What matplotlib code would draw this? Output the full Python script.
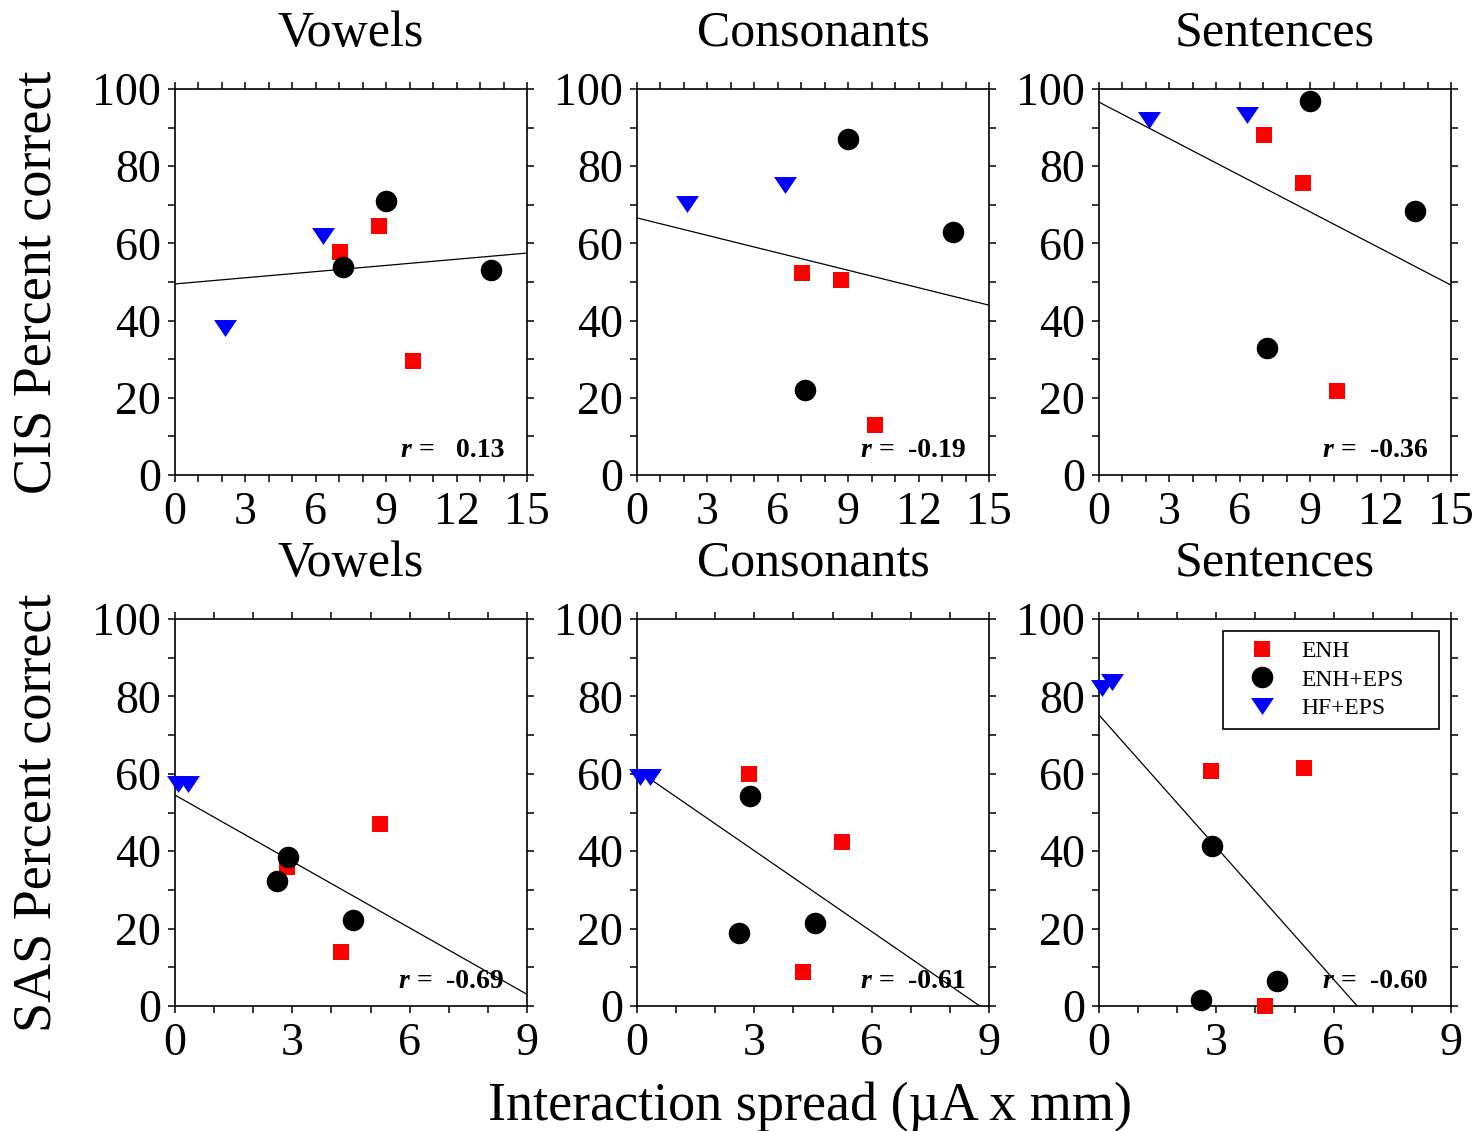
import matplotlib
matplotlib.use("Agg")
import matplotlib.pyplot as plt
from matplotlib.ticker import MultipleLocator
import numpy as np

plt.rcParams['font.family'] = ['Liberation Serif', 'DejaVu Serif']

# ---------------- data ----------------
titles = ["Vowels", "Consonants", "Sentences"]
row_labels = ["CIS Percent correct", "SAS Percent correct"]
groups = ["ENH", "ENH+EPS", "HF+EPS"]

# CIS (top row) interaction spread per subject
cis_x_enh = [7.05, 8.7, 10.15]
cis_x_eps = [7.15, 9.0, 13.45]
cis_x_hf = [2.15, 6.3]
# percent correct per test
cis_vow_enh = [57.8, 64.5, 29.5]
cis_vow_eps = [53.9, 71.0, 53.1]
cis_vow_hf = [38.0, 62.0]
cis_con_enh = [52.3, 50.5, 13.0]
cis_con_eps = [22.0, 87.0, 63.0]
cis_con_hf = [70.2, 75.1]
cis_sen_enh = [88.0, 75.6, 21.8]
cis_sen_eps = [32.9, 96.9, 68.4]
cis_sen_hf = [92.0, 93.3]

# SAS (bottom row)
sas_x_enh = [2.87, 5.23, 4.25]
sas_x_eps = [2.9, 2.62, 4.55]
sas_x_hf = [0.07, 0.33]
sas_vow_enh = [36.0, 47.0, 14.0]
sas_vow_eps = [38.4, 32.2, 22.2]
sas_vow_hf = [57.4, 57.4]
sas_con_enh = [59.9, 42.5, 8.7]
sas_con_eps = [54.3, 18.9, 21.4]
sas_con_hf = [59.3, 59.3]
sas_sen_enh = [60.7, 61.5, 0.0]
sas_sen_eps = [41.3, 1.5, 6.5]
sas_sen_hf = [82.2, 83.8]

# regression lines (intercept, slope) and r values
cis_intercepts = [49.5, 66.6, 96.6]
cis_slopes = [0.533, -1.507, -3.16]
cis_r = [" 0.13", "-0.19", "-0.36"]
sas_intercepts = [54.5, 61.0, 75.2]
sas_slopes = [-5.72, -6.96, -11.39]
sas_r = ["-0.69", "-0.61", "-0.60"]

cis_xmax = 15
sas_xmax = 9

# ---------------- figure ----------------
W, H = 1480, 1131
fig = plt.figure(figsize=(W / 100, H / 100), dpi=100)

col_left = [175, 637, 1099]
ax_w = 352
rows = [(89, 475), (619, 1006)]

colors = {"ENH": "#ff0000", "ENH+EPS": "#000000", "HF+EPS": "#0000ff"}
tri = [(-1, 0.74), (1, 0.74), (0, -0.74)]
markers = {"ENH": dict(marker="s", markersize=11.5),
           "ENH+EPS": dict(marker="o", markersize=15.5),
           "HF+EPS": dict(marker=tri, markersize=16.5)}

row_data = [
    dict(x=[cis_x_enh, cis_x_eps, cis_x_hf],
         y=[[cis_vow_enh, cis_vow_eps, cis_vow_hf],
            [cis_con_enh, cis_con_eps, cis_con_hf],
            [cis_sen_enh, cis_sen_eps, cis_sen_hf]],
         a=cis_intercepts, b=cis_slopes, r=cis_r, xmax=cis_xmax),
    dict(x=[sas_x_enh, sas_x_eps, sas_x_hf],
         y=[[sas_vow_enh, sas_vow_eps, sas_vow_hf],
            [sas_con_enh, sas_con_eps, sas_con_hf],
            [sas_sen_enh, sas_sen_eps, sas_sen_hf]],
         a=sas_intercepts, b=sas_slopes, r=sas_r, xmax=sas_xmax),
]

tick_fs = 33
for ri, (top, bot) in enumerate(rows):
    rd = row_data[ri]
    for ci in range(3):
        left = col_left[ci]
        ax = fig.add_axes([left / W, 1 - bot / H, ax_w / W, (bot - top) / H])
        ax.set_xlim(0, rd["xmax"])
        ax.set_ylim(0, 100)
        # regression line
        xs = np.array([0, rd["xmax"]], dtype=float)
        ax.plot(xs, rd["a"][ci] + rd["b"][ci] * xs, color="black", lw=0.9, zorder=2)
        for gi, g in enumerate(groups):
            ax.plot(rd["x"][gi], rd["y"][ci][gi], linestyle="none",
                    color=colors[g], markeredgewidth=0, label=g, zorder=3,
                    clip_on=False, **markers[g])
        ax.xaxis.set_major_locator(MultipleLocator(3))
        ax.xaxis.set_minor_locator(MultipleLocator(1))
        ax.yaxis.set_major_locator(MultipleLocator(20))
        ax.yaxis.set_minor_locator(MultipleLocator(10))
        ax.tick_params(which="both", direction="out", length=5, width=1.1,
                       top=True, right=True, labeltop=False, labelright=False)
        ax.tick_params(axis="both", which="major", labelsize=tick_fs)
        ax.tick_params(axis="y", which="major", pad=5)
        ax.tick_params(axis="x", which="major", pad=7)
        for sp in ax.spines.values():
            sp.set_linewidth(1.2)
        # title
        ax.text(0.5, 1 + 43 / (bot - top), titles[ci], transform=ax.transAxes,
                ha="center", va="baseline", fontsize=36)
        # r annotation
        t = ax.text(0.935, 0.047, rd["r"][ci], transform=ax.transAxes,
                    ha="right", va="baseline", fontsize=20, fontweight="bold", zorder=4)
        ax.annotate("r =  ", xy=(0, 0), xycoords=t, ha="right", va="bottom",
                    fontsize=20, fontweight="bold", fontstyle="italic", zorder=4)
        if ri == 1 and ci == 2:
            leg = ax.legend(loc="upper left",
                            bbox_to_anchor=((1223 - left) / ax_w, (bot - 631) / (bot - top),
                                            216 / ax_w, 0),
                            mode="expand",
                            borderaxespad=0, fontsize=17, frameon=True, fancybox=False,
                            edgecolor="black", framealpha=1, handlelength=2.5,
                            handletextpad=0.4, borderpad=0.4, labelspacing=0.3,
                            numpoints=1)
            leg.get_frame().set_linewidth(1.2)

# row labels
fig.text(37 / W, 1 - 282 / H, row_labels[0], rotation=90, ha="center", va="center",
         fontsize=39)
fig.text(37 / W, 1 - 813 / H, row_labels[1], rotation=90, ha="center", va="center",
         fontsize=39)
# x label
fig.text(810 / W, 1 - 1107 / H, "Interaction spread (µA x mm)", ha="center",
         va="center", fontsize=39)

fig.savefig("out.png", dpi=100)
